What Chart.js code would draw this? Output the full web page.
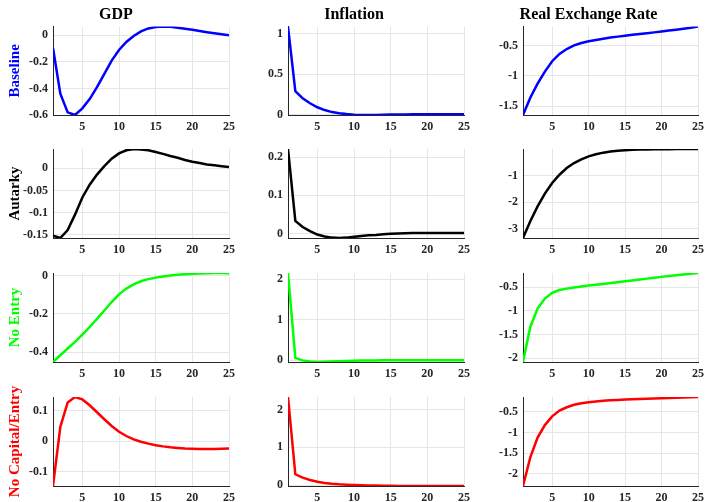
<!DOCTYPE html>
<html>
<head>
<meta charset="utf-8">
<script src="https://cdn.jsdelivr.net/npm/chart.js@4.4.1/dist/chart.umd.min.js"></script>
<style>
  body { margin: 0; background: #fff; }
  #fig { position: relative; width: 709px; height: 502px; }
  #fig canvas { position: absolute; }
</style>
</head>
<body>
<div id="fig"></div>
<script>
const periods = [1, 2, 3, 4, 5, 6, 7, 8, 9, 10, 11, 12, 13, 14, 15, 16, 17, 18, 19, 20, 21, 22, 23, 24, 25];
const variables = ['GDP', 'Inflation', 'Real Exchange Rate'];
const scenarios = ['Baseline', 'Autarky', 'No Entry', 'No Capital/Entry'];
const scenarioColors = ['#0000ff', '#000000', '#00ff00', '#ff0000'];

// Baseline
const gdpBaseline = [-0.095, -0.44, -0.58, -0.60, -0.55, -0.48, -0.39, -0.29, -0.19, -0.11, -0.05, -0.005, 0.03, 0.052, 0.063, 0.066, 0.064, 0.058, 0.05, 0.042, 0.033, 0.024, 0.016, 0.008, 0.0];
const inflBaseline = [1.09, 0.29, 0.20, 0.14, 0.09, 0.055, 0.03, 0.015, 0.005, -0.002, -0.005, -0.006, -0.005, -0.003, -0.001, 0.0, 0.001, 0.002, 0.002, 0.003, 0.003, 0.003, 0.003, 0.003, 0.003];
const rerBaseline = [-1.645, -1.36, -1.13, -0.93, -0.76, -0.64, -0.56, -0.5, -0.46, -0.43, -0.41, -0.39, -0.37, -0.355, -0.34, -0.325, -0.31, -0.298, -0.285, -0.27, -0.255, -0.24, -0.225, -0.21, -0.19];

// Autarky
const gdpAutarky = [-0.153, -0.158, -0.14, -0.105, -0.066, -0.037, -0.014, 0.005, 0.022, 0.034, 0.041, 0.044, 0.043, 0.041, 0.037, 0.033, 0.028, 0.024, 0.019, 0.015, 0.012, 0.009, 0.007, 0.005, 0.003];
const inflAutarky = [0.222, 0.033, 0.017, 0.006, -0.003, -0.008, -0.011, -0.012, -0.011, -0.009, -0.007, -0.005, -0.004, -0.002, -0.001, 0.0, 0.0005, 0.001, 0.001, 0.001, 0.001, 0.001, 0.001, 0.001, 0.001];
const rerAutarky = [-3.35, -2.72, -2.16, -1.68, -1.28, -0.97, -0.72, -0.53, -0.39, -0.28, -0.2, -0.14, -0.1, -0.07, -0.05, -0.035, -0.025, -0.018, -0.013, -0.01, -0.008, -0.006, -0.005, -0.004, -0.003];

// No Entry
const gdpNoEntry = [-0.45, -0.415, -0.38, -0.345, -0.308, -0.268, -0.226, -0.182, -0.138, -0.098, -0.068, -0.046, -0.03, -0.019, -0.011, -0.005, 0.0, 0.004, 0.007, 0.009, 0.011, 0.012, 0.013, 0.013, 0.012];
const inflNoEntry = [2.15, 0.06, 0.0, -0.03, -0.04, -0.035, -0.028, -0.02, -0.014, -0.009, -0.005, -0.003, -0.001, 0.0, 0.001, 0.001, 0.001, 0.001, 0.001, 0.001, 0.001, 0.001, 0.001, 0.001, 0.001];
const rerNoEntry = [-2.08, -1.34, -0.95, -0.74, -0.62, -0.56, -0.53, -0.505, -0.485, -0.465, -0.447, -0.43, -0.412, -0.394, -0.376, -0.357, -0.338, -0.319, -0.3, -0.282, -0.265, -0.248, -0.231, -0.215, -0.2];

// No Capital/Entry
const gdpNoCapital = [-0.147, 0.047, 0.127, 0.145, 0.137, 0.118, 0.095, 0.072, 0.05, 0.031, 0.017, 0.006, -0.002, -0.008, -0.013, -0.017, -0.02, -0.022, -0.024, -0.025, -0.026, -0.026, -0.026, -0.025, -0.024];
const inflNoCapital = [2.33, 0.29, 0.2, 0.14, 0.09, 0.06, 0.04, 0.025, 0.015, 0.008, 0.002, -0.004, -0.008, -0.012, -0.015, -0.017, -0.018, -0.019, -0.02, -0.02, -0.02, -0.02, -0.019, -0.019, -0.018];
const rerNoCapital = [-2.29, -1.6, -1.12, -0.82, -0.61, -0.47, -0.39, -0.33, -0.295, -0.27, -0.25, -0.235, -0.222, -0.212, -0.204, -0.197, -0.19, -0.184, -0.178, -0.172, -0.166, -0.16, -0.154, -0.148, -0.142];

// tick labels
const xTicks = [5, 10, 15, 20, 25];
const baselineTicks = [[-0.6, -0.4, -0.2, 0], [0, 0.5, 1], [-1.5, -1, -0.5]];
const autarkyTicks = [[-0.15, -0.1, -0.05, 0], [0, 0.1, 0.2], [-3, -2, -1]];
const noEntryTicks = [[-0.4, -0.2, 0], [0, 1, 2], [-2, -1.5, -1, -0.5]];
const noCapitalTicks = [[-0.1, 0, 0.1], [0, 1, 2], [-2, -1.5, -1, -0.5]];

const series = [
  [gdpBaseline, inflBaseline, rerBaseline],
  [gdpAutarky, inflAutarky, rerAutarky],
  [gdpNoEntry, inflNoEntry, rerNoEntry],
  [gdpNoCapital, inflNoCapital, rerNoCapital]
];
const yTicks = [baselineTicks, autarkyTicks, noEntryTicks, noCapitalTicks];

// subplot boxes (canvas + plot area edges)
const cols = [
  { x: 0, w: 240, plotL: 53, plotR: 232 },
  { x: 240, w: 235, plotL: 288, plotR: 468 },
  { x: 475, w: 234, plotL: 523, plotR: 702 }
];
const rows = [
  { y: 0, h: 135, plotT: 25, plotB: 115 },
  { y: 135, h: 123, plotT: 149, plotB: 238 },
  { y: 258, h: 124, plotT: 273, plotB: 362 },
  { y: 382, h: 120, plotT: 397, plotB: 486 }
];

const family = "'Liberation Serif', serif";
const tickFont = { family: family, size: 12, weight: 'bold' };
const titleFont = { family: family, size: 16, weight: 'bold' };
const rowFont = { family: family, size: 15, weight: 'bold' };
const fig = document.getElementById('fig');

function makeChart(r, c) {
  const col = cols[c], row = rows[r];
  const cv = document.createElement('canvas');
  cv.width = col.w;
  cv.height = row.h;
  cv.style.left = col.x + 'px';
  cv.style.top = row.y + 'px';
  cv.style.width = col.w + 'px';
  cv.style.height = row.h + 'px';
  fig.appendChild(cv);

  const ys = series[r][c];
  new Chart(cv, {
    type: 'line',
    data: {
      datasets: [{
        data: periods.map((t, i) => ({ x: t, y: ys[i] })),
        borderColor: scenarioColors[r],
        borderWidth: 2.5,
        pointRadius: 0,
        tension: 0,
        fill: false
      }]
    },
    options: {
      responsive: false,
      animation: false,
      events: [],
      layout: {
        padding: { top: r === 0 ? 0 : row.plotT - row.y, right: col.x + col.w - col.plotR, left: 0, bottom: 0 }
      },
      plugins: {
        legend: { display: false },
        tooltip: { enabled: false },
        title: {
          display: r === 0,
          text: variables[c],
          color: '#000',
          font: titleFont,
          lineHeight: 1.1,
          padding: { top: 5, bottom: 2.4 }
        }
      },
      scales: {
        x: {
          type: 'linear',
          min: 1,
          max: 25,
          afterBuildTicks: s => { s.ticks = xTicks.map(v => ({ value: v })); },
          afterFit: s => { s.height = row.y + row.h - row.plotB; },
          grid: { color: '#e6e6e6', drawTicks: false },
          border: { color: '#262626', width: 1 },
          ticks: { font: tickFont, color: '#262626', padding: 5, maxRotation: 0 }
        },
        y: {
          min: Math.min(...ys),
          max: Math.max(...ys),
          afterBuildTicks: s => { s.ticks = yTicks[r][c].map(v => ({ value: v })); },
          afterFit: s => { s.width = col.plotL - col.x; },
          grid: { color: '#e6e6e6', drawTicks: false },
          border: { color: '#262626', width: 1 },
          ticks: { font: tickFont, color: '#262626', padding: 5, callback: v => String(v) },
          title: {
            display: c === 0,
            text: scenarios[r],
            color: scenarioColors[r],
            font: rowFont,
            padding: { top: 6, bottom: 0 }
          }
        }
      }
    }
  });
}

for (let r = 0; r < rows.length; r++) {
  for (let c = 0; c < cols.length; c++) {
    makeChart(r, c);
  }
}
</script>
</body>
</html>
